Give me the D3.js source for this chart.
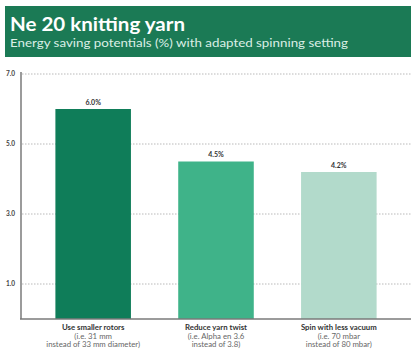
<!DOCTYPE html>
<html>
<head>
<meta charset="utf-8">
<script src="https://cdn.jsdelivr.net/npm/d3@7"></script>
<style>
  body { margin: 0; background: #fff; }
  svg { display: block; }
</style>
</head>
<body>
<svg id="chart" width="411" height="352"></svg>
<script>
let categories = ["Use smaller rotors", "Reduce yarn twist", "Spin with less vacuum"];
let subLines = [
  ["(i.e. 31 mm", "instead of 33 mm diameter)"],
  ["(i.e. Alpha en 3.6", "instead of 3.8)"],
  ["(i.e. 70 mbar", "instead of 80 mbar)"]
];
let savings = [6.0, 4.5, 4.2];
let tickValues = [1.0, 3.0, 5.0, 7.0];
let barColors = ["#0f7d59", "#3fb389", "#b2dacb"];

let headerColor = "#1b7a55";
let axisColor = "#7a7a7a";
let font = "Lato, 'Open Sans', sans-serif";

let svg = d3.select("#chart");

// header box
svg.append("rect")
  .attr("x", 5)
  .attr("y", 6)
  .attr("width", 406)
  .attr("height", 51)
  .style("fill", headerColor);
svg.append("text")
  .attr("x", 10)
  .attr("y", 31)
  .attr("textLength", 175)
  .attr("lengthAdjust", "spacingAndGlyphs")
  .text("Ne 20 knitting yarn")
  .style("fill", "white")
  .style("font-family", font)
  .style("font-weight", "bold")
  .style("font-size", "18px");
svg.append("text")
  .attr("x", 10)
  .attr("y", 47)
  .attr("textLength", 338)
  .attr("lengthAdjust", "spacingAndGlyphs")
  .text("Energy saving potentials (%) with adapted spinning setting")
  .style("fill", "#dcefe6")
  .style("font-family", font)
  .style("font-size", "12px");

// scales
let yScale = d3.scaleLinear()
  .domain([0, 7])
  .range([319, 74]);

let xScale = d3.scaleBand()
  .domain(categories)
  .range([21, 411])
  .paddingInner(0.385)
  .paddingOuter(0.28);

// dotted gridlines
svg.selectAll(".grid")
  .data(tickValues)
  .enter()
  .append("line")
    .attr("x1", 22)
    .attr("x2", 411)
    .attr("y1", d => yScale(d))
    .attr("y2", d => yScale(d))
    .style("stroke", "#b9b9b9")
    .style("stroke-width", "1px")
    .style("stroke-dasharray", "1.5,1.5");

// y tick labels
svg.selectAll(".yLabel")
  .data(tickValues)
  .enter()
  .append("text")
    .attr("x", 15)
    .attr("y", d => yScale(d))
    .text(d => d.toFixed(1))
    .style("text-anchor", "end")
    .style("dominant-baseline", "middle")
    .style("fill", "#444")
    .style("font-family", font)
    .style("font-weight", "bold")
    .style("font-size", "6.5px");

// bars
svg.selectAll(".bar")
  .data(savings)
  .enter()
  .append("rect")
    .attr("x", (d, i) => xScale(categories[i]))
    .attr("y", d => yScale(d))
    .attr("width", xScale.bandwidth())
    .attr("height", d => yScale(0) - yScale(d))
    .style("fill", (d, i) => barColors[i]);

// value labels
svg.selectAll(".valLabel")
  .data(savings)
  .enter()
  .append("text")
    .attr("x", (d, i) => xScale(categories[i]) + xScale.bandwidth()/2)
    .attr("y", d => yScale(d) - 6)
    .text(d => d.toFixed(1) + "%")
    .style("text-anchor", "middle")
    .style("dominant-baseline", "middle")
    .style("fill", "#333")
    .style("font-family", font)
    .style("font-weight", "bold")
    .style("font-size", "7px");

// axes lines
svg.append("line")
  .attr("x1", 21).attr("x2", 21)
  .attr("y1", 72).attr("y2", yScale(0))
  .style("stroke", axisColor)
  .style("stroke-width", "1.5px");
svg.append("line")
  .attr("x1", 20).attr("x2", 411)
  .attr("y1", yScale(0)).attr("y2", yScale(0))
  .style("stroke", axisColor)
  .style("stroke-width", "1.5px");

// category labels
svg.selectAll(".catLabel")
  .data(categories)
  .enter()
  .append("text")
    .attr("x", d => xScale(d) + xScale.bandwidth()/2)
    .attr("y", 328)
    .text(d => d)
    .style("text-anchor", "middle")
    .style("dominant-baseline", "middle")
    .style("fill", "#333")
    .style("font-family", font)
    .style("font-weight", "bold")
    .style("font-size", "7.8px");

categories.forEach(function(c, i) {
  svg.selectAll(".sub" + i)
    .data(subLines[i])
    .enter()
    .append("text")
      .attr("x", xScale(c) + xScale.bandwidth()/2)
      .attr("y", (d, j) => 337 + j*8.5)
      .text(d => d)
      .style("text-anchor", "middle")
      .style("dominant-baseline", "middle")
      .style("fill", "#666")
      .style("font-family", font)
      .style("font-size", "7.8px");
});
</script>
</body>
</html>
